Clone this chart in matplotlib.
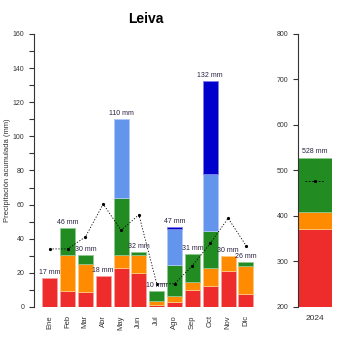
import numpy as np
import matplotlib
matplotlib.use('Agg')
import matplotlib.pyplot as plt
from matplotlib.ticker import MultipleLocator

plt.rcParams['font.family'] = ['Liberation Sans', 'DejaVu Sans']

months = ['Ene', 'Feb', 'Mar', 'Abr', 'May', 'Jun', 'Jul', 'Ago', 'Sep', 'Oct', 'Nov', 'Dic']
red = [17, 9.5, 9, 18, 23, 20, 1.3, 3.1, 10.1, 12.5, 21.3, 7.8]
orange = [0, 21, 16, 0, 7.6, 10.5, 2.4, 3.1, 4.5, 10.3, 8.7, 16]
green = [0, 15.5, 5.6, 0, 33.2, 1.6, 5.8, 18.6, 16.6, 21.9, 0, 2.7]
lightblue = [0, 0, 0, 0, 46.5, 0, 0, 21.1, 0, 33, 0, 0]
darkblue = [0, 0, 0, 0, 0, 0, 0, 1, 0, 54.6, 0, 0]
totals = [17, 46, 30, 18, 110, 32, 10, 47, 31, 132, 30, 26]
ref_line = [34, 34, 41, 60.3, 45, 54, 13.6, 13.6, 24.2, 37.3, 52, 36]

year = '2024'
year_parts = [372, 37.5, 118.5]
year_total = 528
year_ref = 477.6

colors = ['#EE2C2C', '#FF8C00', '#228B22', '#6495ED', '#0000CD']
edges = ['#F7A0A0', '#FFC880', '#90C890', '#B0C8F5', '#8080E8']
txt = '#2a2040'

fig = plt.figure(figsize=(3.5, 3.5), dpi=100)
ax = fig.add_axes([0.097, 0.123, 0.64, 0.78])
ax2 = fig.add_axes([0.851, 0.123, 0.097, 0.78])

x = np.arange(len(months))
bottom = np.zeros(len(months))
for vals, c, e in zip([red, orange, green, lightblue, darkblue], colors, edges):
    vals = np.array(vals)
    lw = [0.6 if v > 0 else 0 for v in vals]
    ax.bar(x, vals, width=0.84, bottom=bottom, color=c, edgecolor=e, linewidth=lw)
    bottom += vals

for xi, top, t in zip(x, bottom, totals):
    ax.annotate(f'{t} mm', (xi, top), xytext=(0, 1.5), textcoords='offset points',
                ha='center', va='bottom', fontsize=5, color=txt)

ax.plot(x, ref_line, color='black', linestyle=(0, (1.5, 2)), linewidth=0.6,
        marker='o', markersize=1.3)

ax.set_xlim(-0.88, 11.67)
ax.set_ylim(0, 160)
ax.yaxis.set_major_locator(MultipleLocator(20))
ax.yaxis.set_minor_locator(MultipleLocator(10))
ax.set_xticks(x)
ax.set_xticklabels(months, rotation=90, fontsize=5.5, color='#333333')
ax.tick_params(axis='x', length=0, pad=6)
ax.tick_params(axis='y', which='both', length=3.5, width=0.8, labelsize=5, colors='#333333')
for s in ['top', 'right', 'bottom']:
    ax.spines[s].set_visible(False)
ax.spines['left'].set_color('#333333')
ax.set_ylabel('Precipitación acumulada (mm)', fontsize=5.5, color='#333333', labelpad=1)
ax.set_title('Leiva', fontsize=10, fontweight='bold', pad=8)

b = 0
for v, c, e in zip(year_parts, colors, edges):
    ax2.bar([0], [v], width=1.0, bottom=b, color=c, edgecolor=e, linewidth=0.6, align='center')
    b += v
ax2.annotate(f'{year_total} mm', (0, b), xytext=(0, 2), textcoords='offset points',
             ha='center', va='bottom', fontsize=5, color=txt)
ax2.plot([-0.28, 0, 0.28], [year_ref] * 3, color='black', linestyle=(0, (2, 2)),
         linewidth=0.6, marker='o', markersize=1.3, markevery=[1])
ax2.set_xlim(-0.5, 0.5)
ax2.set_ylim(200, 800)
ax2.yaxis.set_major_locator(MultipleLocator(100))
ax2.set_xticks([0])
ax2.set_xticklabels([year], fontsize=6, color='#333333')
ax2.tick_params(axis='x', length=0, pad=6)
ax2.tick_params(axis='y', length=3.5, width=0.8, labelsize=5, colors='#333333')
for s in ['top', 'right', 'bottom']:
    ax2.spines[s].set_visible(False)
ax2.spines['left'].set_color('#333333')

fig.savefig('out.png', dpi=100)
